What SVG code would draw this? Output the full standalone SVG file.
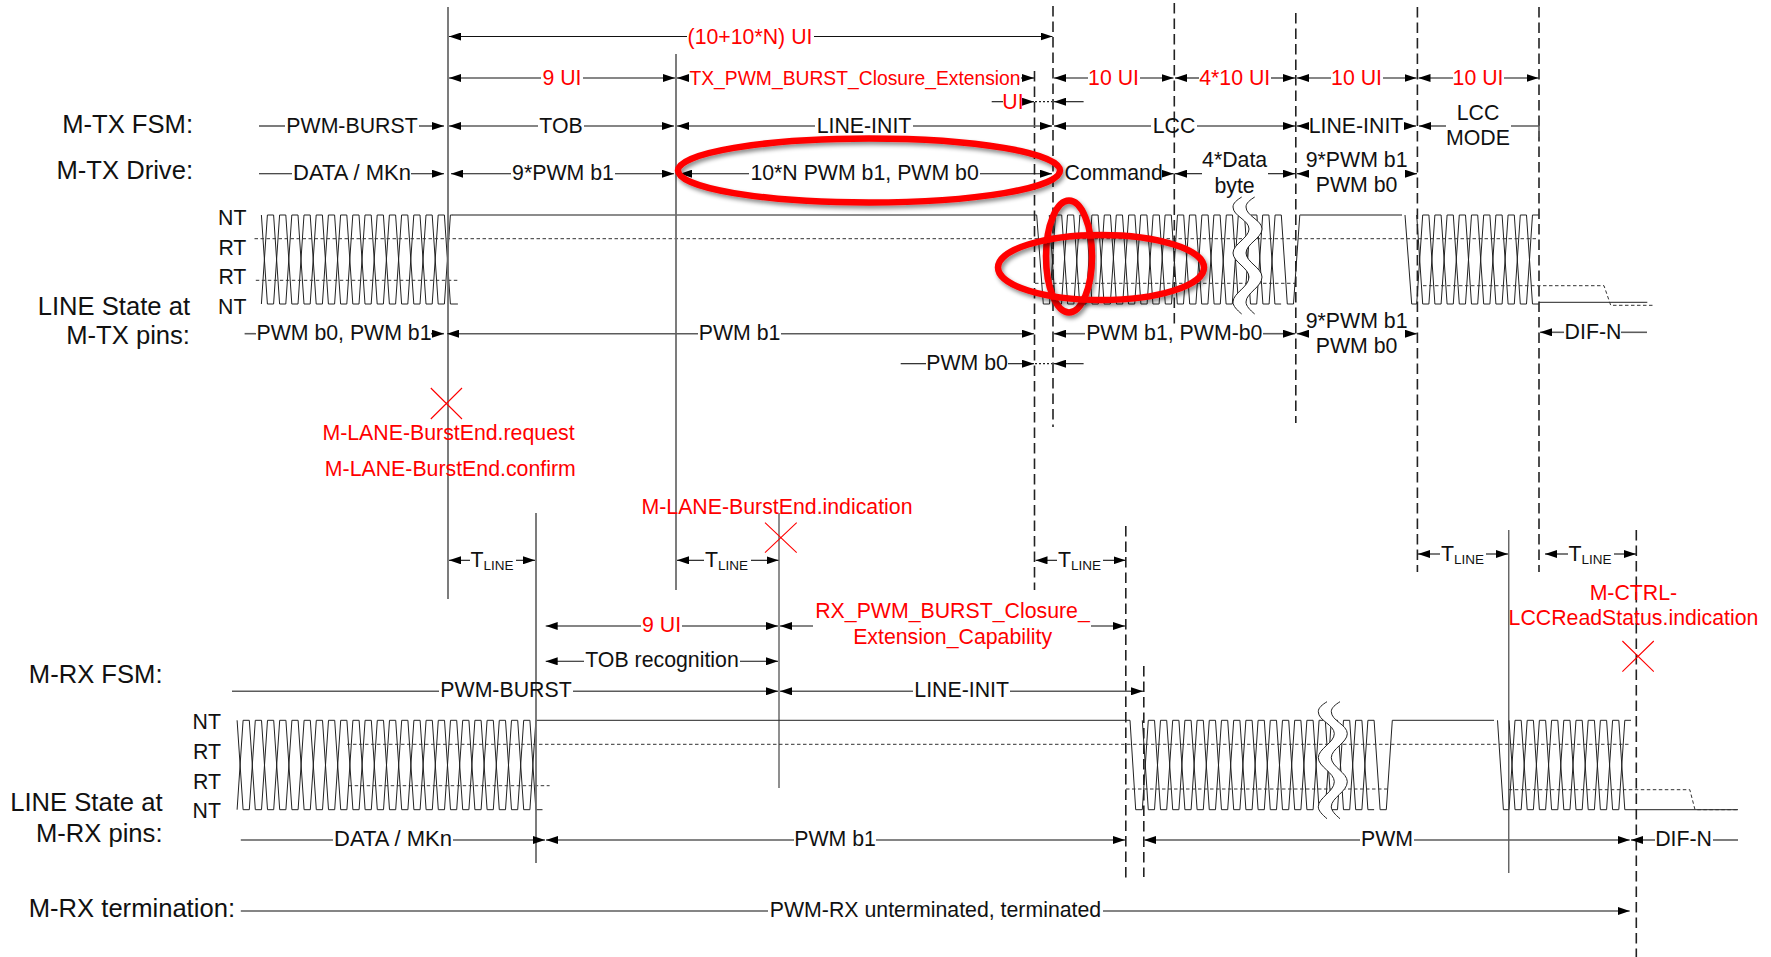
<svg xmlns="http://www.w3.org/2000/svg" xmlns:xlink="http://www.w3.org/1999/xlink" width="1771" height="957" viewBox="0 0 1771 957">
<style>
text{font-family:"Liberation Sans",Arial,sans-serif;font-size:21.3px;fill:#111;text-anchor:middle}
.big{font-size:25.6px;text-anchor:end}
.e{text-anchor:end}
.s{text-anchor:start}
.red{fill:#f00}
.sub{font-size:13.5px}
.w,.top,.h,.v,.n,.d,.o,.t,.g,.x,.c{fill:none}
.w{stroke:#222;stroke-width:1}
.top{stroke:#666;stroke-width:1.6}
.h{stroke:#333;stroke-width:1;stroke-dasharray:3.5 2.5}
.v{stroke:#6e6e6e;stroke-width:1.8}
.n{stroke:#333;stroke-width:1.1}
.d{stroke:#222;stroke-width:1.6;stroke-dasharray:10.5 5}
.o{stroke:#222;stroke-width:1.2;stroke-dasharray:2 2}
.t{stroke:#111;stroke-width:1.1}
.g{stroke:#5c5c5c;stroke-width:1.6}
.ar{marker-end:url(#tip)}
.al{marker-start:url(#tip)}
.x{stroke:#f00;stroke-width:1.1}
.c{stroke:#f00;stroke-width:6.5;filter:url(#sh)}
.wf{fill:#fff}
.hd{fill:#000}
</style>
<defs>
<marker id="tip" markerUnits="userSpaceOnUse" markerWidth="12" markerHeight="8" refX="12" refY="4" orient="auto-start-reverse"><path class="hd" d="M0 0L12 4L0 8Z"/></marker>
<filter id="sh" x="-10%" y="-20%" width="120%" height="140%"><feDropShadow dx="2" dy="3" stdDeviation="2.2" flood-color="#000" flood-opacity=".45"/></filter>
<g id="brk">
<path class="wf" d="M1241.7 197C1237 200 1233 203 1233 207C1233 216 1249 220 1249 229C1249 238 1233 244 1233 253C1233 262 1249 268 1249 277C1249 287 1233 293 1233 302C1233 306 1237 310 1241.7 314L1254.7 314C1250 310 1246 306 1246 302C1246 293 1262 287 1262 277C1262 268 1246 262 1246 253C1246 244 1262 238 1262 229C1262 220 1246 216 1246 207C1246 203 1250 200 1254.7 197Z"/>
<path class="w" d="M1241.7 197C1237 200 1233 203 1233 207C1233 216 1249 220 1249 229C1249 238 1233 244 1233 253C1233 262 1249 268 1249 277C1249 287 1233 293 1233 302C1233 306 1237 310 1241.7 314"/>
<path class="w" d="M1254.7 197C1250 200 1246 203 1246 207C1246 216 1262 220 1262 229C1262 238 1246 244 1246 253C1246 262 1262 268 1262 277C1262 287 1246 293 1246 302C1246 306 1250 310 1254.7 314"/>
</g>
</defs>
<rect width="1771" height="957" fill="#fff"/>

<g id="tx-waveform">
<path class="w" d="M261.4 215
l6 89h6.2l6-89h6.2 l6 89h6.2l6-89h6.2 l6 89h6.2l6-89h6.2 l6 89h6.2l6-89h6.2
l6 89h6.2l6-89h6.2 l6 89h6.2l6-89h6.2 l6 89h6.2l6-89h6.2 l6 89h6.2l6-89h2"/>
<path class="w" d="M261.4 304
l6-89h6.2l6 89h6.2 l6-89h6.2l6 89h6.2 l6-89h6.2l6 89h6.2 l6-89h6.2l6 89h6.2
l6-89h6.2l6 89h6.2 l6-89h6.2l6 89h6.2 l6-89h6.2l6 89h6.2 l6-89h6.2l6 89h7.5"/>
<path class="top" d="M452 215H1036.7"/>
<path class="w" d="M1036.7 215L1043.3 304h6.2
l6-89h6.2l6 89h6.2 l6-89h6.2l6 89h6.2 l6-89h6.2l6 89h6.2 l6-89h6.2l6 89h6.2 l6-89h6.2l6 89h6.2
l6-89h6.2l6 89h6.2 l6-89h6.2l6 89h6.2 l6-89h6.2l6 89h6.2 l6-89h6.2l6 89h6.2 l6-89h6.2l6 89h6.2
l6.3-89"/>
<path class="top" d="M1299.8 215H1402"/>
<path class="w" d="M1049.3 215l6 89h6.2
l6-89h6.2l6 89h6.2 l6-89h6.2l6 89h6.2 l6-89h6.2l6 89h6.2 l6-89h6.2l6 89h6.2
l6-89h6.2l6 89h6.2 l6-89h6.2l6 89h6.2 l6-89h6.2l6 89h6.2 l6-89h6.2l6 89h6.2 l6-89h6.2l6 89h6.2"/>
<path class="w" d="M1405 215L1411.7 304H1416.7
l6-89h6.2l6 89h6.2 l6-89h6.2l6 89h6.2 l6-89h6.2l6 89h6.2 l6-89h6.2l6 89h6.2 l6-89h6.2l6 89h6.2"/>
<path class="w" d="M1416.7 215
l6 89h6.2l6-89h6.2 l6 89h6.2l6-89h6.2 l6 89h6.2l6-89h6.2 l6 89h6.2l6-89h6.2 l6 89h6.2l6-89h6.2"/>
<path class="w" d="M1539 302.3H1647.3"/>
<path class="h" d="M254.5 238.7H1538"/>
<path class="h" d="M255.8 280.3H458"/>
<path class="h" d="M1035 283.3H1295"/>
<path class="h" d="M1423 285.7H1604L1610.7 305.3H1653"/>
<use href="#brk" xlink:href="#brk"/>
</g>

<g id="rx-waveform">
<path class="w" d="M237.1 720.3
l6 89.4h6.2l6-89.4h6.2 l6 89.4h6.2l6-89.4h6.2 l6 89.4h6.2l6-89.4h6.2 l6 89.4h6.2l6-89.4h6.2
l6 89.4h6.2l6-89.4h6.2 l6 89.4h6.2l6-89.4h6.2 l6 89.4h6.2l6-89.4h6.2 l6 89.4h6.2l6-89.4h6.2
l6 89.4h6.2l6-89.4h6.2 l6 89.4h6.2l6-89.4h6.2 l6 89.4h6.2l6-89.4h6.2 l6 89.4h6.2l6-89.4h6.2
l6 89.4H542.5"/>
<path class="w" d="M237.1 809.7
l6-89.4h6.2l6 89.4h6.2 l6-89.4h6.2l6 89.4h6.2 l6-89.4h6.2l6 89.4h6.2 l6-89.4h6.2l6 89.4h6.2
l6-89.4h6.2l6 89.4h6.2 l6-89.4h6.2l6 89.4h6.2 l6-89.4h6.2l6 89.4h6.2 l6-89.4h6.2l6 89.4h6.2
l6-89.4h6.2l6 89.4h6.2 l6-89.4h6.2l6 89.4h6.2 l6-89.4h6.2l6 89.4h6.2 l6-89.4h6.2l6 89.4h6.2
l6-89.4H1130L1135.7 809.7H1142.3
l6-89.4h6.2l6 89.4h6.2 l6-89.4h6.2l6 89.4h6.2 l6-89.4h6.2l6 89.4h6.2 l6-89.4h6.2l6 89.4h6.2 l6-89.4h6.2l6 89.4h6.2
l6-89.4h6.2l6 89.4h6.2 l6-89.4h6.2l6 89.4h6.2 l6-89.4h6.2l6 89.4h6.2 l6-89.4h6.2l6 89.4h6.2 l6-89.4h6.2l6 89.4h6.2
l6-89.4H1494"/>
<path class="w" d="M1142.3 720.3l6 89.4h6.2
l6-89.4h6.2l6 89.4h6.2 l6-89.4h6.2l6 89.4h6.2 l6-89.4h6.2l6 89.4h6.2 l6-89.4h6.2l6 89.4h6.2 l6-89.4h6.2l6 89.4h6.2
l6-89.4h6.2l6 89.4h6.2 l6-89.4h6.2l6 89.4h6.2 l6-89.4h6.2l6 89.4h6.2 l6-89.4h6.2l6 89.4h6.2"/>
<path class="w" d="M1497.5 720.3L1503.4 809.7H1509
l6-89.4h6.2l6 89.4h6.2 l6-89.4h6.2l6 89.4h6.2 l6-89.4h6.2l6 89.4h6.2 l6-89.4h6.2l6 89.4h6.2 l6-89.4h6.2l6 89.4H1738"/>
<path class="w" d="M1509 720.3
l6 89.4h6.2l6-89.4h6.2 l6 89.4h6.2l6-89.4h6.2 l6 89.4h6.2l6-89.4h6.2 l6 89.4h6.2l6-89.4h6.2 l6 89.4h6.2l6-89.4h6.2"/>
<path class="h" d="M347 744.3H1629.7"/>
<path class="h" d="M348.7 785.7H549.6"/>
<path class="h" d="M1126 789H1388.3"/>
<path class="h" d="M1508.8 789.7H1689.8L1695 809.7H1738"/>
<use href="#brk" xlink:href="#brk" transform="translate(85.3 504.7)"/>
</g>

<g id="boundaries">
<path class="v" d="M448 7V599"/>
<path class="v" d="M676 54V590"/>
<path class="v" d="M536 513V863"/>
<path class="n" d="M779 513V788"/>
<path class="n" d="M1508.8 530V873"/>
<path class="d" d="M1034.5 71V590"/>
<path class="d" d="M1053 6V427"/>
<path class="d" d="M1174.3 3V327"/>
<path class="d" d="M1295.8 13V423"/>
<path class="d" d="M1417.4 7V572"/>
<path class="d" d="M1539 7V572"/>
<path class="d" d="M1125.8 526V882"/>
<path class="d" d="M1143.8 666V877"/>
<path class="d" d="M1636.3 530V957"/>
</g>

<g id="connectors">
<path class="t al" d="M449 36.5H687"/><path class="t ar" d="M814 36.5H1052.5"/>
<path class="t al" d="M449 78H541"/><path class="t ar" d="M583 78H675"/>
<path class="t al" d="M677 78H689"/><path class="t ar" d="M1021 78H1034"/>
<path class="t al" d="M1054 78H1088"/><path class="t ar" d="M1140 78H1173.5"/>
<path class="t al" d="M1175 78H1199"/><path class="t ar" d="M1271 78H1295"/>
<path class="t al" d="M1297 78H1331"/><path class="t ar" d="M1383 78H1416.5"/>
<path class="t al" d="M1418.5 78H1453"/><path class="t ar" d="M1504 78H1538.5"/>
<path class="t" d="M991.7 101.7H1003"/><path class="t ar" d="M1023 101.7H1034"/>
<path class="o" d="M1035 101.7H1052"/><path class="t al" d="M1054 101.7H1083.6"/>

<path class="g" d="M259 126H285"/><path class="g ar" d="M419 126H444"/>
<path class="g al" d="M449 126H538"/><path class="g ar" d="M584 126H674"/>
<path class="g al" d="M677 126H815"/><path class="g ar" d="M913 126H1052"/>
<path class="g al" d="M1054 126H1151"/><path class="g ar" d="M1197 126H1295"/>
<path class="g al" d="M1297 126H1309"/><path class="g ar" d="M1404 126H1416"/>
<path class="g al" d="M1419 126H1446"/><path class="g" d="M1511 126H1539V137"/>

<path class="t" d="M259 173.7H292"/><path class="t ar" d="M411 173.7H444"/>
<path class="t al" d="M451 173.7H511"/><path class="t ar" d="M615 173.7H674"/>
<path class="t al" d="M680 173.7H749"/><path class="t ar" d="M980 173.7H1052"/>
<path class="t ar" d="M1163 173.7H1173.5"/><path class="t al" d="M1175 173.7H1202"/>
<path class="t ar" d="M1268 173.7H1295"/>
<path class="t al" d="M1297 173.7H1307"/><path class="t ar" d="M1405 173.7H1417"/>

<path class="g" d="M244.6 333.7H256"/><path class="g ar" d="M431 333.7H444"/>
<path class="g al" d="M447 333.7H698"/><path class="g ar" d="M781 333.7H1034"/>
<path class="g al" d="M1054 333.7H1085"/><path class="g ar" d="M1263 333.7H1295"/>
<path class="g al" d="M1297 333.7H1307"/><path class="g ar" d="M1405 333.7H1417"/>
<path class="g al" d="M1540 332.3H1564"/><path class="g" d="M1621 332.3H1647"/>
<path class="t" d="M900.7 363.7H926"/><path class="t ar" d="M1008 363.7H1034"/>
<path class="o" d="M1035 363.7H1052"/><path class="t al" d="M1054 363.7H1083.6"/>

<path class="t al" d="M449 560.3H470"/><path class="t ar" d="M516 560.3H535"/>
<path class="t al" d="M677 560.3H704"/><path class="t ar" d="M751 560.3H778.5"/>
<path class="t al" d="M1035.5 560.3H1057"/><path class="t ar" d="M1103 560.3H1125.5"/>
<path class="t al" d="M1418 554H1440"/><path class="t ar" d="M1486 554H1508"/>
<path class="t al" d="M1545 554H1568"/><path class="t ar" d="M1614 554H1636"/>

<path class="g al" d="M545.7 626H641"/><path class="g ar" d="M682 626H778"/>
<path class="g al" d="M780 626H813"/><path class="g ar" d="M1091 626H1125"/>
<path class="t al" d="M545.7 661.3H584"/><path class="t ar" d="M740 661.3H778"/>
<path class="g" d="M232 691.3H439"/><path class="g ar" d="M573 691.3H778"/>
<path class="g al" d="M780 691.3H913"/><path class="g ar" d="M1010 691.3H1143"/>
<path class="g" d="M240.8 840H333"/><path class="g ar" d="M453 840H545"/>
<path class="g al" d="M546 840H794"/><path class="g ar" d="M876 840H1125"/>
<path class="g al" d="M1144 840H1360"/><path class="g ar" d="M1414 840H1629.7"/>
<path class="g al" d="M1631 840H1655"/><path class="g" d="M1713 840H1738"/>
<path class="g" d="M240.8 911H768"/><path class="g ar" d="M1103 911H1629.7"/>
</g>

<g id="events">
<path class="x" d="M430.8 388L462 419M462 388L430.8 419"/>
<path class="x" d="M765 522.7L796.7 552.7M796.7 522.7L765 552.7"/>
<path class="x" d="M1622.4 641L1653.8 671.7M1653.8 641L1622.4 671.7"/>
</g>

<g id="highlights">
<ellipse class="c" cx="869" cy="170.5" rx="191" ry="32"/>
<ellipse class="c" cx="1069" cy="256.5" rx="23" ry="56"/>
<ellipse class="c" cx="1101" cy="267.5" rx="103" ry="32.5"/>
</g>

<g id="row-labels">
<text class="big" x="193" y="133.3">M-TX FSM:</text>
<text class="big" x="193" y="178.5">M-TX Drive:</text>
<text class="big" x="190" y="315">LINE State at</text>
<text class="big" x="190" y="344.3">M-TX pins:</text>
<text class="big" x="162.5" y="683.3">M-RX FSM:</text>
<text class="big" x="162.5" y="810.7">LINE State at</text>
<text class="big" x="162.5" y="841.7">M-RX pins:</text>
<text class="big" x="235" y="917.3">M-RX termination:</text>
<text class="e" x="246.4" y="225">NT</text><text class="e" x="246.4" y="255">RT</text><text class="e" x="246.4" y="284">RT</text><text class="e" x="246.4" y="314">NT</text>
<text class="e" x="221" y="729">NT</text><text class="e" x="221" y="759">RT</text><text class="e" x="221" y="789">RT</text><text class="e" x="221" y="818.3">NT</text>
</g>

<g id="timing-labels">
<text class="red" x="750" y="43.5">(10+10*N) UI</text>
<text class="red" x="562" y="85">9 UI</text>
<text class="red" x="855" y="84.5" style="font-size:19.3px">TX_PWM_BURST_Closure_Extension</text>
<text class="red" x="1113.5" y="85">10 UI</text>
<text class="red" x="1234.7" y="85">4*10 UI</text>
<text class="red" x="1356.5" y="85">10 UI</text>
<text class="red" x="1478" y="85">10 UI</text>
<text class="red" x="1013" y="108.5">UI</text>
<text class="red" x="661.6" y="632">9 UI</text>
<text class="red" x="952.5" y="618">RX_PWM_BURST_Closure_</text>
<text class="red" x="952.6" y="644">Extension_Capability</text>
<text class="red" x="448.5" y="440">M-LANE-BurstEnd.request</text>
<text class="red" x="450.3" y="476">M-LANE-BurstEnd.confirm</text>
<text class="red" x="777" y="514">M-LANE-BurstEnd.indication</text>
<text class="red" x="1633.4" y="600">M-CTRL-</text>
<text class="red" x="1633.5" y="625">LCCReadStatus.indication</text>

<text x="352" y="133">PWM-BURST</text>
<text x="561" y="133">TOB</text>
<text x="864" y="133">LINE-INIT</text>
<text x="1174" y="133">LCC</text>
<text x="1356" y="133">LINE-INIT</text>
<text x="1478" y="120">LCC</text>
<text x="1478" y="145">MODE</text>
<text x="352" y="180" style="font-size:22px">DATA / MKn</text>
<text x="563" y="180">9*PWM b1</text>
<text x="864.6" y="180">10*N PWM b1, PWM b0</text>
<text x="1113.7" y="180">Command</text>
<text x="1234.6" y="166.7">4*Data</text>
<text x="1234.6" y="192.7">byte</text>
<text x="1356.6" y="166.7">9*PWM b1</text>
<text x="1356.6" y="191.7">PWM b0</text>
<text x="344" y="340">PWM b0, PWM b1</text>
<text x="739.5" y="340">PWM b1</text>
<text x="1174.3" y="340">PWM b1, PWM-b0</text>
<text x="1356.6" y="327.7">9*PWM b1</text>
<text x="1356.6" y="352.7">PWM b0</text>
<text x="1593" y="339.3">DIF-N</text>
<text x="967" y="370">PWM b0</text>
<text class="s" x="470.5" y="567">T<tspan class="sub" dy="3">LINE</tspan></text>
<text class="s" x="705" y="567">T<tspan class="sub" dy="3">LINE</tspan></text>
<text class="s" x="1058" y="567">T<tspan class="sub" dy="3">LINE</tspan></text>
<text class="s" x="1441" y="561">T<tspan class="sub" dy="3">LINE</tspan></text>
<text class="s" x="1568.5" y="561">T<tspan class="sub" dy="3">LINE</tspan></text>
<text x="662" y="667.2">TOB recognition</text>
<text x="506" y="697">PWM-BURST</text>
<text x="961.7" y="697">LINE-INIT</text>
<text x="393" y="846.2" style="font-size:22px">DATA / MKn</text>
<text x="835" y="846.2">PWM b1</text>
<text x="1387" y="846.2">PWM</text>
<text x="1683.6" y="846.2">DIF-N</text>
<text x="935.5" y="917">PWM-RX unterminated, terminated</text>
</g>
</svg>
